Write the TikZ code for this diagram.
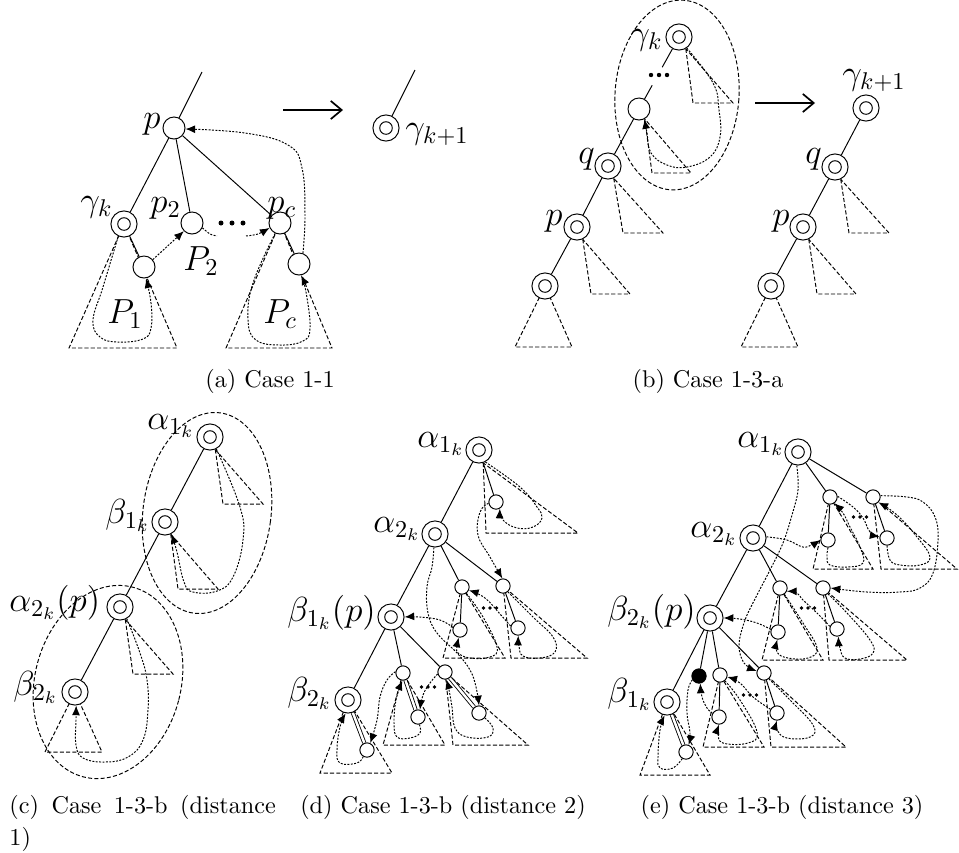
\documentclass[tikz,border=0pt]{standalone}
\usetikzlibrary{arrows.meta,calc}
\pgfdeclarelayer{bg}
\pgfsetlayers{bg,main}
\begin{document}
\begin{tikzpicture}[x=0.413pt,y=-0.413pt,
 sn/.style={circle,draw,fill=white,inner sep=0pt,minimum size=9.1pt},
 smn/.style={circle,draw,fill=white,inner sep=0pt,minimum size=5.9pt},
 bkn/.style={circle,draw,fill=black,inner sep=0pt,minimum size=5.9pt},
 dn/.style={circle,draw,fill=white,inner sep=0pt,minimum size=10.8pt,
   path picture={\draw (path picture bounding box.center) circle[radius=2.6pt];}},
 tri/.style={dash pattern=on 1.7pt off 0.9pt,line width=0.4pt},
 trav/.style={dash pattern=on 0.8pt off 0.6pt,line width=0.4pt},
 tarr/.style={trav,-{Latex[length=4pt,width=3.3pt]}},
 dbe/.style={double,double distance=1pt,line width=0.35pt},
 lbl/.style={inner sep=0pt,font=\Large},
 captxt/.style={inner sep=0pt,font=\normalsize},
 bigarr/.style={line width=0.7pt,-{Straight Barb[length=4.5pt,width=7.5pt]}},
]
\useasboundingbox (0,0) rectangle (959,852);

%================ (a)
\node[sn] (pa) at (174,128) {};
\node[dn] (gka) at (124,224) {};
\node[sn] (p2a) at (192,223) {};
\node[sn] (pca) at (280,223) {};
\node[sn] (c1a) at (144,267) {};
\node[sn] (cca) at (299,264) {};
\coordinate (topa) at (202,72);
\node[dn] (g1a) at (386,128) {};
\coordinate (topg) at (415,70);
\coordinate (arA1) at (283,110);
\coordinate (arA2) at (343,110);
\node[lbl,anchor=base east] (lpa) at (161,128) {$p$};
\node[lbl,anchor=base west] (lgka) at (80,211) {$\gamma_k$};
\node[lbl,anchor=base west] (lp2a) at (150,212) {$p_2$};
\node[lbl,anchor=base west] (lpca) at (267,212) {$p_c$};
\node[lbl,anchor=base west] (lP2a) at (183,270) {$P_2$};
\node[lbl,anchor=base west] (lP1a) at (107,323) {$P_1$};
\node[lbl,anchor=base west] (lPca) at (263,323) {$P_c$};
\node[lbl,anchor=base west] (lg1a) at (405,138) {$\gamma_{k+1}$};
\node[captxt,anchor=base] (capa) at (270,387) {(a) Case 1-1};
\foreach \x in {221,232,243} \fill (\x,223) circle (2.5);

%================ (b)
\node[dn] (gkb) at (679,37) {};
\node[sn] (mb) at (639,109) {};
\node[dn] (qb) at (608,166) {};
\node[dn] (pb) at (577,227) {};
\node[dn] (bb) at (545,286) {};
\node[dn] (g1b) at (866,108) {};
\node[dn] (qb2) at (835,167) {};
\node[dn] (pb2) at (803,227) {};
\node[dn] (bb2) at (771,286) {};
\coordinate (gb1) at ($(gkb)!0.42!(mb)$);
\coordinate (gb2) at ($(gkb)!0.67!(mb)$);
\coordinate (arB1) at (755,103);
\coordinate (arB2) at (815,103);
\node[lbl,anchor=base west] (lgkb) at (630,44) {$\gamma_k$};
\node[lbl,anchor=base west] (lqb) at (578,163) {$q$};
\node[lbl,anchor=base west] (lpb) at (545,225) {$p$};
\node[lbl,anchor=base west] (lg1b) at (842,84) {$\gamma_{k+1}$};
\node[lbl,anchor=base west] (lqb2) at (805,163) {$q$};
\node[lbl,anchor=base west] (lpb2) at (772,225) {$p$};
\node[captxt,anchor=base] (capb) at (708,387) {(b) Case 1-3-a};
\foreach \x in {651,659,667} \fill (\x,75) circle (2.2);

%================ (c)
\node[dn] (a1c) at (210,437) {};
\node[dn] (b1c) at (165,522) {};
\node[dn] (a2c) at (120,607) {};
\node[dn] (b2c) at (75,692) {};
\node[lbl,anchor=base west] (la1c) at (147,429) {$\alpha_{1_k}$};
\node[lbl,anchor=base west] (lb1c) at (105,523) {$\beta_{1_k}$};
\node[lbl,anchor=base west] (la2c) at (9,611) {$\alpha_{2_k}(p)$};
\node[lbl,anchor=base west] (lb2c) at (13,695) {$\beta_{2_k}$};
\node[captxt,anchor=base west] (capc) at (9,813) {\parbox[t]{110pt}{\baselineskip=13.6pt (c) Case 1-3-b (distance 1)}};

%================ (d)
\node[dn] (a1d) at (479,450) {};
\node[dn] (a2d) at (435,534) {};
\node[dn] (b1d) at (391,617) {};
\node[dn] (b2d) at (348,700) {};
\node[smn] (c1d) at (496,502) {};
\node[smn] (ad) at (462,587) {};
\node[smn] (bd) at (503,586) {};
\node[smn] (apd) at (460,630) {};
\node[smn] (bpd) at (518,628) {};
\node[smn] (cd) at (403,673) {};
\node[smn] (dd) at (445,672) {};
\node[smn] (cpd) at (418,717) {};
\node[smn] (dpd) at (479,713) {};
\node[smn] (ed) at (367,750) {};
\node[lbl,anchor=base west] (la1d) at (417,447) {$\alpha_{1_k}$};
\node[lbl,anchor=base west] (la2d) at (373,532) {$\alpha_{2_k}$};
\node[lbl,anchor=base west] (lb1d) at (287,621) {$\beta_{1_k}(p)$};
\node[lbl,anchor=base west] (lb2d) at (287,701) {$\beta_{2_k}$};
\node[captxt,anchor=base] (capd) at (443,813) {(d) Case 1-3-b (distance 2)};

%================ (e)
\node[dn] (a1e) at (798,452) {};
\node[dn] (a2e) at (753,538) {};
\node[dn] (b2e) at (710,618) {};
\node[dn] (b1e) at (667,702) {};
\node[smn] (fe) at (830,497) {};
\node[smn] (ge) at (873,497) {};
\node[smn] (fpe) at (828,540) {};
\node[smn] (gpe) at (887,538) {};
\node[smn] (he) at (780,588) {};
\node[smn] (ie) at (823,588) {};
\node[smn] (hpe) at (778,632) {};
\node[smn] (ipe) at (837,629) {};
\node[bkn] (je) at (699,676) {};
\node[smn] (ke) at (720,675) {};
\node[smn] (le) at (764,673) {};
\node[smn] (kpe) at (719,717) {};
\node[smn] (lpe) at (777,713) {};
\node[smn] (me) at (686,752) {};
\node[lbl,anchor=base west] (la1e) at (737,447) {$\alpha_{1_k}$};
\node[lbl,anchor=base west] (la2e) at (690,537) {$\alpha_{2_k}$};
\node[lbl,anchor=base west] (lb2e) at (607,620) {$\beta_{2_k}(p)$};
\node[lbl,anchor=base west] (lb1e) at (607,702) {$\beta_{1_k}$};
\node[captxt,anchor=base] (cape) at (782,813) {(e) Case 1-3-b (distance 3)};

\foreach \x/\y in {490/608,428/687,860/517,808/608,750/695}
  {\foreach \d in {-6.5,0,6.5} \fill (\x+\d,\y) circle (1.8);}

\begin{pgfonlayer}{bg}
%---- (a)
\draw (pa) -- (topa);
\draw (pa) -- (gka); \draw (pa) -- (p2a); \draw (pa) -- (pca);
\draw (gka) -- (c1a); \draw (pca) -- (cca);
\draw (g1a) -- (topg);
\draw[bigarr] (arA1) -- (arA2);
\draw[tri] (gka.center) -- (69,348) -- (177,348) -- cycle;
\draw[tri] (pca.center) -- (226,348) -- (332,348) -- cycle;
\draw[tarr] plot[smooth,tension=0.7] coordinates {(gka.-115) (103,287) (93,320) (100,337) (118,342) (143,339) (151,328) (151,303) (c1a.-80)};
\draw[tarr] (c1a.40) -- (p2a.-135);
\draw[trav] plot[smooth] coordinates {(p2a.-25) (210,234) (217,236)};
\draw[tarr] plot[smooth] coordinates {(246,236) (258,234) (pca.-155)};
\draw[tarr] plot[smooth,tension=0.7] coordinates {(pca.-115) (253,283) (248,320) (256,340) (280,345) (303,341) (310,328) (306,292) (cca.-80)};
\draw[tarr] plot[smooth,tension=0.7] coordinates {(cca.70) (305,215) (302,168) (288,145) (245,133) (pa.-5)};

%---- (b)
\draw (gkb) -- (gb1); \draw (gb2) -- (mb);
\draw (mb) -- (qb); \draw (qb) -- (pb); \draw (pb) -- (bb);
\draw (g1b) -- (qb2); \draw (qb2) -- (pb2); \draw (pb2) -- (bb2);
\draw[bigarr] (arB1) -- (arB2);
\draw[tri] (gkb.-60) -- (693,103) -- (733,103) -- cycle;
\draw[tri] (mb.-60) -- (652,173) -- (691,173) -- cycle;
\draw[tri] (qb.-65) -- (623,233) -- (663,233) -- cycle;
\draw[tri] (pb.-65) -- (591,294) -- (630,294) -- cycle;
\draw[tri] (bb.center) -- (515,347) -- (572,347) -- cycle;
\draw[tri] (qb2.-65) -- (849,233) -- (889,233) -- cycle;
\draw[tri] (pb2.-65) -- (817,294) -- (856,294) -- cycle;
\draw[tri] (bb2.center) -- (741,347) -- (798,347) -- cycle;
\draw[tarr] plot[smooth,tension=0.7] coordinates {(gkb.-55) (713,83) (719,110) (720,137) (710,157) (687,167) (667,165) (651,153) (647,133) (mb.-62)};
\draw[tri,rotate around={-4:(677,95)}] (677,95) ellipse [x radius=62, y radius=95];

%---- (c)
\draw (a1c) -- (b1c); \draw (b1c) -- (a2c); \draw (a2c) -- (b2c);
\draw[tri] (a1c.-67) -- (223,504) -- (263,504) -- cycle;
\draw[tri] (b1c.-65) -- (178,589) -- (218,589) -- cycle;
\draw[tri] (a2c.-67) -- (133,674) -- (173,674) -- cycle;
\draw[tri] (b2c.center) -- (45,752) -- (102,752) -- cycle;
\draw[tarr] plot[smooth,tension=0.7] coordinates {(a1c.-62) (240,507) (243,540) (233,577) (217,591) (193,592) (184,582) (177,552) (b1c.-62)};
\draw[tarr] plot[smooth,tension=0.7] coordinates {(a2c.-60) (140,653) (147,680) (148,710) (143,740) (128,757) (105,762) (83,758) (76,745) (76,720) (b2c.-85)};
\draw[tri,rotate around={-7.5:(207,513)}] (207,513) ellipse [x radius=64, y radius=101];
\draw[tri,rotate around={-14.7:(108,682)}] (108,682) ellipse [x radius=73, y radius=98];

%---- (d)
\draw (a1d) -- (a2d); \draw (a1d) -- (c1d);
\draw (a2d) -- (b1d); \draw (a2d) -- (ad); \draw (a2d) -- (bd);
\draw (ad) -- (apd); \draw (bd) -- (bpd);
\draw (b1d) -- (b2d); \draw (b1d) -- (cd); \draw (b1d) -- (dd);
\draw[dbe] (cd) -- (cpd); \draw[dbe] (dd) -- (dpd); \draw[dbe] (b2d) -- (ed);
\draw[tri] (a1d.-72) -- (486,533) -- (578,533) -- cycle;
\draw[tri] (ad.center) -- (443,658) -- (505,658) -- cycle;
\draw[tri] (bd.center) -- (511,658) -- (587,658) -- cycle;
\draw[tri] (cd.center) -- (383,745) -- (445,745) -- cycle;
\draw[tri] (dd.center) -- (453,745) -- (528,745) -- cycle;
\draw[tri] (b2d.center) -- (320,773) -- (392,773) -- cycle;
\draw[tarr] plot[smooth,tension=0.7] coordinates {(a1d.-62) (520,487) (537,507) (542,518) (533,527) (517,528) (503,520) (c1d.-60)};
\draw[tarr] plot[smooth,tension=0.7] coordinates {(c1d.190) (480,512) (478,535) (490,557) (bd.95)};
\draw[tarr] plot[smooth,tension=0.7] coordinates {(bd.-50) (533,617) (553,637) (555,652) (540,658) (523,656) (519,646) (bpd.-88)};
\draw[tarr] plot[smooth,tension=0.7] coordinates {(bpd.165) (500,614) (485,598) (ad.-25)};
\draw[tarr] plot[smooth,tension=0.7] coordinates {(ad.-55) (483,617) (497,647) (490,657) (470,658) (458,653) (457,647) (apd.-100)};
\draw[tarr] plot[smooth,tension=0.7] coordinates {(apd.160) (440,620) (420,617) (b1d.0)};
\draw[tarr] plot[smooth,tension=0.7] coordinates {(a2d.-95) (432,567) (427,587) (428,613) (437,633) (457,653) (470,670) (476,687) (dpd.90)};
\draw[tarr] plot[smooth,tension=0.7] coordinates {(dpd.-40) (493,728) (488,737) (467,737) (455,728) (452,707) (449,690) (dd.-80)};
\draw[tarr] plot[smooth,tension=0.7] coordinates {(dd.195) (430,683) (423,695) (cpd.75)};
\draw[tarr] plot[smooth,tension=0.7] coordinates {(cpd.-80) (420,733) (410,738) (397,737) (394,723) (396,700) (cd.-95)};
\draw[tarr] plot[smooth,tension=0.7] coordinates {(cd.170) (387,680) (380,697) (377,720) (ed.65)};
\draw[tarr] plot[smooth,tension=0.7] coordinates {(ed.-120) (357,763) (340,763) (337,750) (340,727) (b2d.-100)};

%---- (e)
\draw (a1e) -- (a2e); \draw (a1e) -- (fe); \draw (a1e) -- (ge);
\draw (fe) -- (fpe); \draw (ge) -- (gpe);
\draw (a2e) -- (b2e); \draw (a2e) -- (he); \draw (a2e) -- (ie);
\draw (he) -- (hpe); \draw (ie) -- (ipe);
\draw (b2e) -- (b1e); \draw (b2e) -- (je); \draw (b2e) -- (ke); \draw (b2e) -- (le);
\draw (ke) -- (kpe); \draw (le) -- (lpe);
\draw[dbe] (b1e) -- (me);
\draw[tri] (fe.center) -- (813,569) -- (873,569) -- cycle;
\draw[tri] (ge.center) -- (881,569) -- (957,569) -- cycle;
\draw[tri] (he.center) -- (762,660) -- (823,660) -- cycle;
\draw[tri] (ie.center) -- (829,660) -- (907,660) -- cycle;
\draw[tri] (ke.center) -- (703,747) -- (764,747) -- cycle;
\draw[tri] (le.center) -- (771,747) -- (846,747) -- cycle;
\draw[tri] (b1e.center) -- (640,775) -- (710,775) -- cycle;
\draw[tarr] plot[smooth,tension=0.6] coordinates {(a1e.-95) (798,490) (792,515) (783,543) (770,570) (757,595) (745,620) (739,645) (744,663) (le.165)};
\draw[tarr] plot[smooth,tension=0.7] coordinates {(a2e.5) (787,540) (803,547) (813,544) (fpe.180)};
\draw[tarr] plot[smooth,tension=0.7] coordinates {(fpe.-90) (827,557) (830,565) (847,567) (863,563) (860,547) (850,527) (843,513) (fe.-55)};
\draw[tarr] plot[smooth,tension=0.7] coordinates {(fe.5) (853,507) (863,518) (870,532) (gpe.170)};
\draw[tarr] plot[smooth,tension=0.7] coordinates {(gpe.-90) (890,560) (900,565) (920,565) (930,557) (917,537) (897,515) (ge.-45)};
\draw[tarr] plot[smooth,tension=0.7] coordinates {(ge.10) (907,497) (923,502) (935,517) (938,540) (933,573) (920,588) (900,592) (867,592) (ie.0)};
\draw[tarr] plot[smooth,tension=0.7] coordinates {(ie.-50) (847,613) (870,640) (873,653) (860,659) (845,658) (840,648) (ipe.-80)};
\draw[tarr] plot[smooth,tension=0.7] coordinates {(ipe.160) (817,613) (803,600) (797,593) (he.-25)};
\draw[tarr] plot[smooth,tension=0.7] coordinates {(he.-55) (803,623) (817,648) (808,658) (788,658) (777,652) (hpe.-95)};
\draw[tarr] plot[smooth,tension=0.7] coordinates {(hpe.160) (757,623) (740,619) (b2e.0)};
\draw[tarr] plot[smooth,tension=0.7] coordinates {(le.-50) (790,700) (813,725) (810,737) (787,738) (777,730) (lpe.-90)};
\draw[tarr] plot[smooth,tension=0.7] coordinates {(lpe.150) (753,697) (740,683) (ke.-15)};
\draw[tarr] plot[smooth,tension=0.7] coordinates {(ke.-50) (740,700) (757,732) (748,743) (723,743) (718,733) (kpe.-90)};
\draw[tarr] plot[smooth,tension=0.7] coordinates {(kpe.150) (707,708) (702,697) (je.-80)};
\draw[tarr] plot[smooth,tension=0.7] coordinates {(je.-150) (688,690) (687,713) (690,733) (me.70)};
\draw[tarr] plot[smooth,tension=0.7] coordinates {(me.-120) (673,768) (660,768) (658,757) (660,730) (b1e.-100)};
\end{pgfonlayer}
\end{tikzpicture}
\end{document}
